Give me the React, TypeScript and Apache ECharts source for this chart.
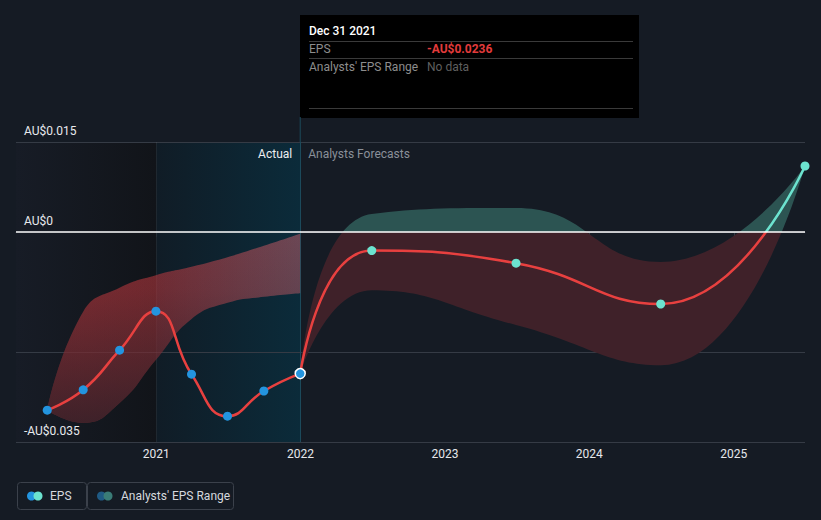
import React, { useEffect, useRef } from 'react';
import * as echarts from 'echarts';

// ---------- data ----------
const histDates = ['2020-03-31', '2020-06-30', '2020-09-30', '2020-12-31', '2021-03-31', '2021-06-30', '2021-09-30', '2021-12-31'];
const histEps = [-0.0297, -0.0263, -0.0197, -0.0132, -0.0237, -0.0307, -0.0265, -0.0236];
const histLow = [-0.0297, -0.0318, -0.0285, -0.0213, -0.0145, -0.0118, -0.0108, -0.0102];
const histHigh = [-0.0297, -0.0133, -0.0093, -0.0072, -0.0058, -0.0042, -0.0023, -0.0003];

const foreDates = ['2021-12-31', '2022-06-30', '2023-06-30', '2024-06-30', '2025-06-30'];
const foreEps = [-0.0236, -0.0031, -0.0052, -0.0120, 0.0110];
const foreLow = [-0.0236, -0.0097, -0.0155, -0.0222, 0.0110];
const foreHigh = [-0.0236, 0.0030, 0.0040, -0.0050, 0.0110];

const yTicks = [0.015, 0, -0.02, -0.035];
const yTickLabels = ['AU$0.015', 'AU$0', '', '-AU$0.035'];

const xMin = '2020-01-12';
const xMax = '2025-06-30';
const actualStart = '2021-01-01';
const pointerDate = '2021-12-31';

const tooltipTitle = 'Dec 31 2021';
const tooltipEps = '-AU$0.0236';

// ---------- colours ----------
const BG = '#151b24';
const RED = '#e8403f';
const TEAL = '#6ce3cf';
const BLUE = '#2394df';
const GRID = '#353b45';
const FONT = 'Roboto, "Noto Sans", sans-serif';

const ts = (d: string) => {
  const [y, m, day] = d.split('-').map(Number);
  return new Date(y, m - 1, day).getTime();
};
const pairs = (dates: string[], vals: number[]) => dates.map((d, i) => [ts(d), vals[i]]);
const diffs = (dates: string[], hi: number[], lo: number[]) => dates.map((d, i) => [ts(d), hi[i] - lo[i]]);

export default function App() {
  const ref = useRef<HTMLDivElement>(null);

  useEffect(() => {
    const chart = echarts.init(ref.current!, null, { renderer: 'svg' });

    const hidden = { opacity: 0, width: 0 };
    const yLabel = {
      show: true, position: 'insideStartTop', color: '#e8eaee', fontSize: 12,
      fontFamily: FONT, distance: [8, 5],
    };
    const option: any = {
      animation: false,
      backgroundColor: BG,
      textStyle: { fontFamily: FONT },
      grid: { left: 16, right: 16, top: 142, bottom: 78, containLabel: false },
      xAxis: {
        type: 'time',
        min: ts(xMin),
        max: ts(xMax),
        minInterval: 365 * 86400000,
        maxInterval: 366 * 86400000,
        axisLine: { lineStyle: { color: GRID, width: 1 } },
        axisTick: { show: true, length: 5, lineStyle: { color: GRID } },
        splitLine: { show: false },
        axisLabel: { color: '#e6e8ec', fontSize: 12, margin: 6, formatter: '{yyyy}', fontFamily: FONT },
      },
      yAxis: {
        type: 'value',
        min: -0.035,
        max: 0.015,
        show: false,
        splitLine: { show: false },
      },
      visualMap: [
        {
          type: 'piecewise', show: false, seriesIndex: [6], dimension: 1,
          pieces: [{ gt: -1, lte: 0, color: '#3f2129' }, { gt: 0, lte: 1, color: '#2c5452' }],
        },
        {
          type: 'piecewise', show: false, seriesIndex: [7, 8], dimension: 1,
          pieces: [{ gt: -1, lte: 0, color: RED }, { gt: 0, lte: 1, color: TEAL }],
        },
      ],
      series: [
        // 0: historic band, colour layer (lower)
        {
          type: 'line', stack: 'h1', stackStrategy: 'all', data: pairs(histDates, histLow), smooth: 0.5,
          showSymbol: false, lineStyle: hidden, silent: true,
        },
        // 1: historic band colour layer (range)
        {
          type: 'line', stack: 'h1', stackStrategy: 'all', data: diffs(histDates, histHigh, histLow), smooth: 0.5,
          showSymbol: false, lineStyle: hidden, silent: true,
          areaStyle: {
            opacity: 1,
            color: new echarts.graphic.LinearGradient(0, 0, 1, 0, [
              { offset: 0, color: 'rgba(215,58,62,0.58)' },
              { offset: 0.45, color: 'rgba(215,62,68,0.52)' },
              { offset: 1, color: 'rgba(205,100,112,0.5)' },
            ]),
          },
        },
        // 2: historic band shade layer (lower)
        {
          type: 'line', stack: 'h2', stackStrategy: 'all', data: pairs(histDates, histLow), smooth: 0.5,
          showSymbol: false, lineStyle: hidden, silent: true,
        },
        // 3: historic band shade layer (range)
        {
          type: 'line', stack: 'h2', stackStrategy: 'all', data: diffs(histDates, histHigh, histLow), smooth: 0.5,
          showSymbol: false, lineStyle: hidden, silent: true,
          areaStyle: {
            opacity: 1,
            color: new echarts.graphic.LinearGradient(0, 0, 0, 1, [
              { offset: 0, color: 'rgba(21,27,36,0)' },
              { offset: 0.3, color: 'rgba(21,27,36,0.1)' },
              { offset: 1, color: 'rgba(21,27,36,0.62)' },
            ]),
          },
        },
        // 4: background regions and grid lines (no marks of its own)
        {
          type: 'line', data: pairs(histDates, histEps), silent: true, showSymbol: false,
          lineStyle: hidden,
          markArea: {
            silent: true,
            z: 1,
            data: [
              [
                {
                  xAxis: ts(xMin),
                  itemStyle: {
                    color: new echarts.graphic.LinearGradient(0, 0, 1, 0, [
                      { offset: 0, color: '#171c26' },
                      { offset: 1, color: '#111419' },
                    ]),
                  },
                },
                { xAxis: ts(actualStart) },
              ],
              [
                {
                  xAxis: ts(actualStart),
                  itemStyle: {
                    color: new echarts.graphic.LinearGradient(0, 0, 1, 0, [
                      { offset: 0, color: '#101c26' },
                      { offset: 1, color: '#0b2b3a' },
                    ]),
                  },
                },
                { xAxis: ts(pointerDate) },
              ],
            ],
          },
          markLine: {
            silent: true,
            z: 1,
            precision: 4,
            symbol: ['none', 'none'],
            lineStyle: { color: GRID, type: 'solid', width: 1 },
            label: { show: false },
            data: [
              { yAxis: yTicks[0], label: { ...yLabel, formatter: yTickLabels[0] } },
              { yAxis: yTicks[2] },
              { yAxis: yTicks[3], label: { ...yLabel, formatter: yTickLabels[3] } },
              { xAxis: ts(actualStart), lineStyle: { color: 'rgba(255,255,255,0.06)' } },
              { xAxis: ts(pointerDate), lineStyle: { color: '#1c4a5b' } },
            ],
          },
        },
        // 5: forecast band lower
        {
          type: 'line', stack: 'f', stackStrategy: 'all', data: pairs(foreDates, foreLow), smooth: 0.5,
          showSymbol: false, lineStyle: hidden, silent: true,
        },
        // 6: forecast band range
        {
          type: 'line', stack: 'f', stackStrategy: 'all', data: diffs(foreDates, foreHigh, foreLow), smooth: 0.5,
          showSymbol: false, lineStyle: hidden, silent: true,
          areaStyle: { opacity: 1 },
        },
        // 7: historic EPS line
        {
          type: 'line', data: pairs(histDates, histEps), smooth: 0.5,
          showSymbol: false, lineStyle: { width: 2.5 }, silent: true,
          markLine: {
            silent: true,
            precision: 4,
            symbol: ['none', 'none'],
            lineStyle: { color: '#ffffff', type: 'solid', width: 1.5 },
            label: yLabel,
            data: [{ yAxis: yTicks[1], label: { ...yLabel, formatter: yTickLabels[1] } }],
          },
        },
        // 8: forecast EPS line
        {
          type: 'line', data: pairs(foreDates, foreEps), smooth: 0.5,
          showSymbol: false, lineStyle: { width: 2.5 }, silent: true,
        },
        // 9: historic points
        {
          type: 'scatter', symbolSize: 9, silent: true, z: 4,
          itemStyle: { color: BLUE, opacity: 1 },
          data: pairs(histDates, histEps).map((p, i) =>
            i === histDates.length - 1
              ? { value: p, symbolSize: 10, itemStyle: { color: BLUE, opacity: 1, borderColor: '#ffffff', borderWidth: 1.5 } }
              : { value: p }
          ),
        },
        // 10: forecast points
        {
          type: 'scatter', symbolSize: 9, silent: true, z: 4,
          itemStyle: { color: TEAL, opacity: 1 },
          data: pairs(foreDates, foreEps).slice(1),
        },
      ],
    };
    chart.setOption(option);

    const px = chart.convertToPixel({ xAxisIndex: 0 }, ts(pointerDate)) as number;
    const top = 142;
    const t = (x: number, y: number, text: string, fill: string, extra: any = {}) => ({
      type: 'text', x, y, silent: true, z: 100,
      style: { text, fill, fontSize: 12, fontFamily: FONT, verticalAlign: 'middle', ...extra },
    });
    const hl = (x1: number, x2: number, y: number, stroke: string) => ({
      type: 'line', silent: true, z: 100, shape: { x1, y1: y, x2, y2: y }, style: { stroke, lineWidth: 1 },
    });

    chart.setOption({
      graphic: [
        { type: 'line', silent: true, z: 100, shape: { x1: px, y1: 117, x2: px, y2: top }, style: { stroke: '#1c4a5b', lineWidth: 1 } },
        t(px - 8, 154, 'Actual', '#eceef2', { align: 'right' }),
        t(px + 8, 154, 'Analysts Forecasts', '#8a9099'),
        // tooltip box
        { type: 'rect', silent: true, z: 99, shape: { x: 300, y: 15, width: 339, height: 103 }, style: { fill: '#000000' } },
        t(309, 31, tooltipTitle, '#ffffff', { fontWeight: 500 }),
        hl(309, 633, 41.5, '#3a3a3a'),
        t(309, 49, 'EPS', '#8d8d8d'),
        t(427, 49, tooltipEps, '#e23b3b', { fontWeight: 'bold' }),
        hl(309, 633, 58.5, '#3a3a3a'),
        t(309, 67, "Analysts' EPS Range", '#8d8d8d'),
        t(427, 67, 'No data', '#5f5f5f'),
        hl(309, 633, 108.5, '#3a3a3a'),
        // legend
        { type: 'rect', silent: true, z: 100, shape: { x: 17.5, y: 482.5, width: 69, height: 27, r: 3 }, style: { fill: 'none', stroke: '#3b414b', lineWidth: 1 } },
        { type: 'circle', silent: true, z: 100, shape: { cx: 31.5, cy: 496, r: 4.5 }, style: { fill: BLUE } },
        { type: 'circle', silent: true, z: 100, shape: { cx: 38, cy: 496, r: 4.5 }, style: { fill: TEAL } },
        t(50, 496, 'EPS', '#d6d9de'),
        { type: 'rect', silent: true, z: 100, shape: { x: 87.5, y: 482.5, width: 146, height: 27, r: 3 }, style: { fill: 'none', stroke: '#3b414b', lineWidth: 1 } },
        { type: 'circle', silent: true, z: 100, shape: { cx: 101.5, cy: 496, r: 4.5 }, style: { fill: '#1f5a84' } },
        { type: 'circle', silent: true, z: 100, shape: { cx: 108, cy: 496, r: 4.5 }, style: { fill: '#3a7c77' } },
        t(121, 496, "Analysts' EPS Range", '#d6d9de'),
      ],
    });

    return () => chart.dispose();
  }, []);

  return (
    <div
      ref={ref}
      style={{ position: 'fixed', left: 0, top: 0, width: 821, height: 520, background: BG }}
    />
  );
}
